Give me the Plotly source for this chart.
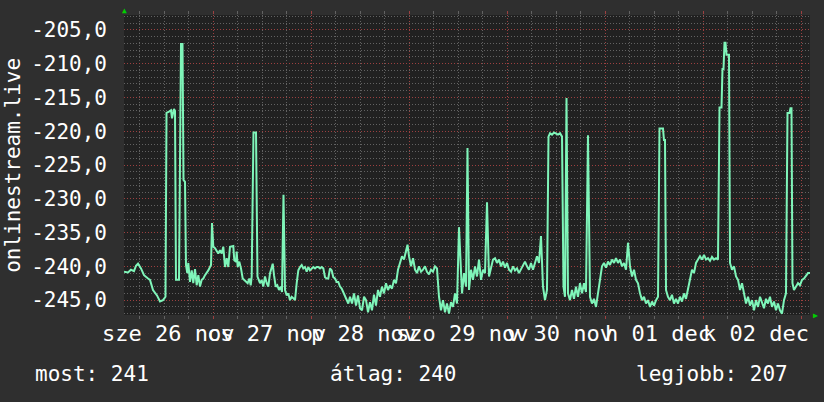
import plotly.graph_objects as go

# hours since the left edge of the graph (one week = 168 h)
hours = [
    0, 0.98, 1.71, 2.45, 2.94, 3.43, 4.16, 4.90, 5.88, 6.37, 7.10, 8.08, 8.82, 9.55, 10.16,
    10.41, 11.02, 11.51, 11.76, 12.24, 12.49, 12.73, 12.98, 13.47, 13.96, 14.33, 14.57, 14.94, 15.18,
    15.50, 15.75, 16.16, 16.58, 16.97, 17.39, 17.80, 18.20, 18.61, 19.03, 19.42, 19.84, 20.25, 20.64,
    21.06, 21.31, 21.55, 21.87, 22.29, 22.70, 23.09, 23.51, 23.93, 24.32, 24.73, 25.15, 25.54, 25.96,
    26.38, 26.77, 27.01, 27.43, 27.60, 27.84, 28.24, 28.65, 29.07, 29.46, 29.88, 30.29, 30.69, 31.03,
    31.27, 31.71, 32.33, 32.69, 33.31, 33.72, 34.11, 34.53, 34.95, 35.34, 35.76, 36.17, 36.42, 36.74,
    37.15, 37.54, 37.96, 38.38, 38.69, 39.06, 39.43, 39.85, 40.24, 40.65, 41.07, 41.46, 41.88, 42.29,
    42.69, 43.10, 43.52, 43.91, 44.33, 44.74, 45.14, 45.55, 45.97, 46.36, 46.78, 47.19, 47.58, 48.00,
    48.42, 48.81, 49.23, 49.64, 50.03, 50.45, 50.87, 51.26, 51.67, 52.09, 52.48, 52.90, 53.31, 53.71,
    54.12, 54.54, 54.93,
    55.35, 55.84, 56.33, 56.82, 57.31, 57.80, 58.29, 58.78, 59.27, 59.76, 60.24, 60.73, 61.22, 61.71,
    62.20, 62.69, 63.18, 63.67, 64.16, 64.65, 65.14, 65.63, 66.12, 66.61, 67.10, 67.59, 68.08, 68.57,
    69.06, 69.43, 69.80, 70.29, 70.78, 71.27, 71.76, 72.24, 72.73, 73.22, 73.71, 74.20, 74.69, 75.18,
    75.67, 76.16, 76.65, 77.14, 77.63, 78.12, 78.61, 79.10, 79.59, 80.08, 80.57, 81.06, 81.55, 82.04,
    82.78, 83.27, 83.76, 84.12, 84.49, 84.98, 85.47, 85.96, 86.45, 86.94, 87.43, 87.92, 88.41, 88.90,
    89.39, 89.88, 90.37, 90.86, 91.35, 91.84, 92.33, 92.82, 93.31, 93.80, 94.29, 94.78, 95.27, 95.76,
    96.24, 96.73, 97.22, 97.71, 98.20, 98.69, 99.18, 99.67, 100.16, 100.65, 101.14, 101.63, 102.12,
    102.61, 103.10, 103.59, 103.96, 104.33, 104.82, 105.31, 105.80, 106.29, 106.78, 107.27, 107.63,
    108.00, 108.37, 108.73, 109.22, 109.71, 110.20, 110.69, 111.18, 111.67, 112.16, 112.65, 113.14,
    113.63, 114.12, 114.61, 115.10, 115.59, 116.08, 116.57, 117.06, 117.55, 118.04, 118.53, 119.02,
    119.51, 120.00, 120.49, 120.98, 121.47, 121.96, 122.45, 122.94, 123.43, 123.92, 124.41, 124.90,
    125.39, 125.88, 126.37, 126.86, 127.35, 127.84, 128.33, 128.82, 129.31, 129.80, 130.29, 130.78,
    131.14, 132.00, 132.24, 132.49, 132.74, 133.22, 133.71, 134.20, 134.69, 135.18, 135.67, 136.16,
    136.65, 137.14, 137.63, 138.12, 138.61, 139.10, 139.59, 140.08, 140.57, 141.06, 141.55, 142.04,
    142.53, 143.02, 143.51, 144.00, 144.49, 144.98, 145.47, 145.84, 146.33, 146.57, 146.82, 147.06,
    147.31, 147.55, 148.16, 148.41, 148.90, 149.39, 149.88, 150.37, 150.86, 151.35, 151.84, 152.33,
    152.82, 153.31, 153.80, 154.29, 154.78, 155.27, 155.76, 156.24, 156.73, 157.22, 157.71, 158.20,
    158.69, 159.18, 159.67, 160.16, 160.65, 161.14, 161.63, 162.12, 162.49, 162.98, 163.22, 163.47,
    163.71, 164.08, 164.57, 165.06, 165.55, 166.04, 166.53, 167.02, 167.51, 168.0,
]

values = [
    -240.8, -240.9, -240.5, -240.7, -239.9, -239.6, -240.3, -241.3, -241.8, -242.0, -243.5, -244.3, -245.2, -245.0, -244.5,
    -217.3, -217.1, -216.9, -218.1, -216.7, -217.0, -242.0, -242.0, -242.0, -207.1, -207.1, -227.2, -227.5, -239.8,
    -241.0, -239.5, -242.3, -240.6, -242.5, -240.4, -242.8, -241.3, -243.0, -242.0, -241.8, -241.3, -241.0, -240.6,
    -240.1, -239.8, -233.6, -237.1, -237.3, -237.8, -238.1, -237.6, -238.1, -237.1, -240.1, -238.8, -240.1, -237.1,
    -237.1, -237.0, -239.1, -239.3, -237.8, -240.1, -239.3, -240.3, -241.8, -242.0, -242.3, -242.5, -241.8, -242.8,
    -241.5, -220.2, -220.2, -241.5, -242.5, -242.0, -243.0, -241.5, -242.5, -243.0, -241.0, -239.8, -239.6, -241.3,
    -243.0, -242.8, -243.5, -243.0, -243.8, -229.4, -243.5, -244.3, -244.0, -245.0, -244.5, -244.7, -245.0, -242.5,
    -240.6, -240.1, -239.8, -240.3, -240.1, -240.8, -240.1, -240.6, -240.3, -240.1, -240.3, -240.1, -240.1, -240.3,
    -240.1, -240.3, -241.6, -241.8, -241.8, -240.3, -240.6, -241.6, -241.8, -242.3, -242.3, -243.0, -243.3, -243.8,
    -244.3, -245.0, -245.5,
    -244.5, -245.5, -244.0, -245.8, -244.3, -246.2, -246.5, -244.5, -245.0, -246.8, -245.3, -246.5, -244.2, -245.8,
    -243.5, -244.5, -243.0, -244.0, -242.5, -243.5, -242.8, -243.3, -242.0, -242.5, -240.5, -239.5, -238.5, -239.0,
    -237.8, -236.8, -238.5, -240.0, -238.8, -240.5, -241.0, -240.0, -240.8, -240.5, -240.0, -240.8, -241.2, -240.5,
    -240.8, -240.0, -240.3, -244.5, -246.5, -245.0, -246.8, -245.5, -247.0, -245.3, -246.0, -244.0, -245.5, -234.2,
    -244.0, -241.0, -243.0, -222.5, -243.5, -240.5, -242.0, -240.0, -241.5, -239.0, -242.0, -240.5, -241.0, -230.5,
    -241.5, -240.0, -239.0, -238.8, -239.5, -239.0, -240.0, -239.3, -240.2, -239.5, -240.5, -240.8, -240.0, -240.6,
    -240.3, -241.0, -240.5, -239.8, -239.3, -240.0, -240.5, -239.5, -240.5, -239.5, -238.5, -239.5, -235.5,
    -243.0, -245.0, -243.5, -220.8, -220.3, -220.5, -220.2, -220.3, -220.5, -220.3, -220.8, -243.0,
    -244.5, -215.1, -244.0, -245.0, -243.5, -244.8, -243.0, -244.5, -242.5, -244.0, -242.5, -243.8,
    -220.6, -244.5, -245.5, -244.8, -246.0, -244.0, -242.0, -240.0, -239.5, -240.2, -239.3, -239.8,
    -239.0, -239.5, -238.8, -239.5, -239.0, -240.0, -239.5, -240.5, -236.5, -240.0, -241.5, -240.5,
    -242.0, -242.5, -244.0, -245.0, -244.5, -245.5, -245.0, -246.0, -245.2, -245.8, -245.0, -244.5,
    -219.6, -219.6, -221.3, -221.3, -243.5, -244.5, -245.0, -244.2, -245.5, -244.8, -245.5, -244.5,
    -245.2, -244.0, -244.8, -243.5, -242.0, -240.5, -241.0, -239.5, -239.0, -238.5, -239.0, -238.3,
    -239.0, -238.8, -239.2, -238.6, -239.0, -238.8, -239.0, -216.5, -216.5, -210.8, -210.8, -206.9,
    -206.9, -208.7, -208.7, -239.5, -240.5, -240.0, -241.5, -242.0, -243.5, -242.5, -244.0, -245.5,
    -244.5, -245.8, -245.0, -246.5, -245.0, -246.0, -244.5, -245.5, -246.2, -244.8, -245.5, -244.5,
    -246.0, -245.2, -246.5, -245.5, -246.5, -247.0, -245.0, -244.0, -217.3, -217.3, -216.6, -216.6,
    -242.5, -243.5, -243.0, -242.5, -242.8, -242.0, -241.8, -241.3, -241.0, -241.0,
]

y_ticks = [-245, -240, -235, -230, -225, -220, -215, -210, -205]
y_labels = ["-245,0", "-240,0", "-235,0", "-230,0", "-225,0", "-220,0", "-215,0", "-210,0", "-205,0"]

day_lines = [21.8, 45.8, 69.8, 93.8, 117.8, 141.8, 165.8]
label_hours = [10.8, 34.8, 58.8, 82.8, 106.8, 130.8, 154.8]
day_labels = ["sze 26 nov", "cs 27 nov", "p 28 nov", "szo 29 nov", "v 30 nov", "h 01 dec", "k 02 dec"]

summary_names = ["most", "átlag", "legjobb"]
summary_values = [241, 240, 207]

BG = "#2f2f2f"
PLOT_BG = "#212121"
LINE = "#7ff5b9"
MAJOR = "#9c4040"
MINOR = "#626262"
ARROW = "#00d000"
FONT = "DejaVu Sans Mono"
DOTS = "1px,2px"

fig = go.Figure(
    go.Scatter(x=hours, y=values, mode="lines", line=dict(color=LINE, width=2), hoverinfo="skip")
)

fig.update_layout(
    width=824,
    height=402,
    margin=dict(l=124, r=14, t=15, b=87),
    paper_bgcolor=BG,
    plot_bgcolor=PLOT_BG,
    showlegend=False,
    font=dict(family=FONT, size=21, color="white"),
)

fig.update_xaxes(
    range=[0, 168],
    tickmode="array",
    tickvals=day_lines,
    showticklabels=False,
    showgrid=True,
    gridcolor=MAJOR,
    griddash=DOTS,
    gridwidth=1,
    ticks="outside",
    ticklen=3,
    tickcolor=MAJOR,
    mirror="ticks",
    zeroline=False,
    minor=dict(
        tickmode="linear", tick0=day_lines[0], dtick=6, showgrid=True,
        gridcolor=MINOR, griddash=DOTS, ticks="outside", ticklen=3, tickcolor=MINOR,
    ),
)

fig.update_yaxes(
    range=[-247.2, -202.8],
    tickmode="array",
    tickvals=y_ticks,
    ticktext=y_labels,
    showgrid=True,
    gridcolor=MAJOR,
    griddash=DOTS,
    gridwidth=1,
    ticks="",
    ticklabelstandoff=16,
    zeroline=False,
    minor=dict(tickmode="linear", tick0=-245, dtick=1, showgrid=True, gridcolor=MINOR, griddash=DOTS),
)

# day labels under the x axis (rrdtool centres them between the day lines)
for h, lbl in zip(label_hours, day_labels):
    fig.add_annotation(x=h, xref="x", y=-0.063, yref="paper", text=lbl, showarrow=False,
                       xanchor="center", yanchor="middle", font=dict(size=22))

fig.add_annotation(x=-0.162, xref="paper", y=0.5, yref="paper", text="onlinestream.live",
                   textangle=-90, showarrow=False, xanchor="center", yanchor="middle",
                   font=dict(size=21))

# legend line
fig.add_annotation(x=-0.133, xref="paper", y=-0.197, yref="paper",
                   text=f"{summary_names[0]}: {summary_values[0]}", showarrow=False,
                   xanchor="left", yanchor="middle")
fig.add_annotation(x=0.297, xref="paper", y=-0.197, yref="paper",
                   text=f"{summary_names[1]}: {summary_values[1]}", showarrow=False,
                   xanchor="left", yanchor="middle")
fig.add_annotation(x=0.971, xref="paper", y=-0.197, yref="paper",
                   text=f"{summary_names[2]}: {summary_values[2]}", showarrow=False,
                   xanchor="right", yanchor="middle")

# axis arrows
fig.add_annotation(x=0, xref="paper", y=1, yref="paper", text="▲", showarrow=False,
                   xanchor="center", yanchor="middle", yshift=5, font=dict(size=8, color=ARROW))
fig.add_annotation(x=1, xref="paper", y=0, yref="paper", text="▶", showarrow=False,
                   xanchor="center", yanchor="middle", xshift=5, font=dict(size=8, color=ARROW))

# the page's default body margin would shift the figure by 8 px
fig.write_html("out.html", config={"displayModeBar": False},
               post_script="document.body.style.margin='0px';")
